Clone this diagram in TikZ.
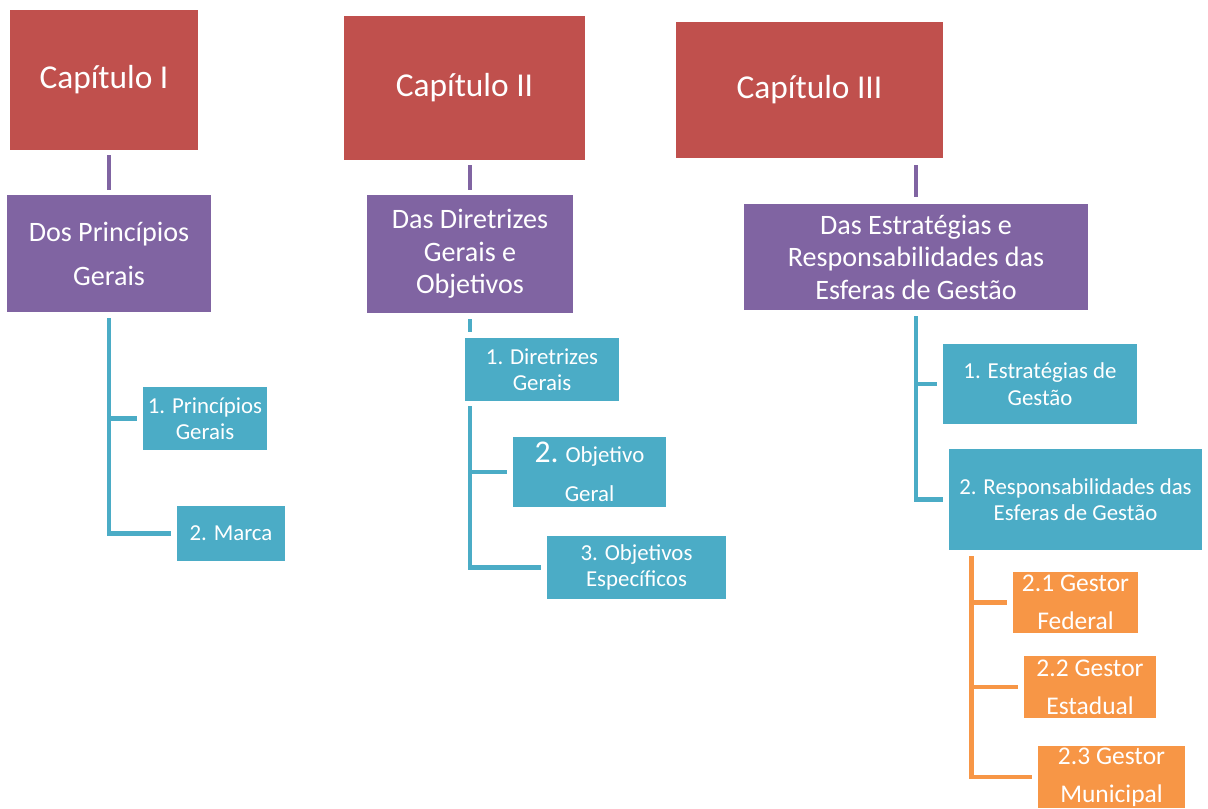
\documentclass[tikz,border=0pt]{standalone}
\usepackage{fontspec}
\setmainfont{Carlito}
\usepackage{tikz}
\usetikzlibrary{positioning}
\definecolor{capred}{HTML}{C0504D}
\definecolor{secpurple}{HTML}{8064A2}
\definecolor{itemteal}{HTML}{4BACC6}
\definecolor{suborange}{HTML}{F79646}

\begin{document}
\begin{tikzpicture}[
    node distance=2cm,
    chapter/.style={
		rectangle,
		fill=capred,
		text=white,
		text centered,
		inner sep=0pt,
		font=\fontsize{19}{23}\selectfont
	},
	part/.style={
		rectangle,
		fill=secpurple,
		text=white,
		align=center,
		inner sep=0pt,
		font=\fontsize{16}{18.5}\selectfont
	},
	topic/.style={
		rectangle,
		fill=itemteal,
		text=white,
		align=center,
		inner sep=0pt,
		font=\fontsize{13}{15}\selectfont
	},
	gestor/.style={
		rectangle,
		fill=suborange,
		text=white,
		align=center,
		inner sep=0pt,
		font=\fontsize{14.5}{21.5}\selectfont
	},
	plink/.style={
		draw=secpurple,
		line width=2.6pt,
		shorten <=0.1cm,
		shorten >=0.1cm
	},
	tlink/.style={
		draw=itemteal,
		line width=2.6pt,
		shorten <=0.12cm,
		shorten >=0.12cm
	},
	olink/.style={
		draw=suborange,
		line width=2.6pt,
		shorten <=0.12cm,
		shorten >=0.12cm
	}
  ]

\useasboundingbox (0,0) rectangle (24.16,-16.16);

 % // Chapters
 \node [chapter, minimum width=3.76cm, minimum height=2.8cm] (cap1) at (2.08,-1.6) {Capítulo I};
 \node [chapter, right of=cap1, xshift=5.21cm, yshift=-0.16cm, minimum width=4.82cm, minimum height=2.88cm] (cap2) {Capítulo II};
 \node [chapter, right of=cap2, xshift=4.9cm, yshift=-0.04cm, minimum width=5.34cm, minimum height=2.72cm] (cap3) {Capítulo III};

 % // Sections
 \node [part, below of=cap1, xshift=0.1cm, yshift=-1.47cm, minimum width=4.08cm, minimum height=2.34cm, font=\fontsize{16}{25}\selectfont] (sec1) {Dos Princípios\\Gerais};
 \node [part, below of=cap2, xshift=0.11cm, yshift=-1.32cm, minimum width=4.12cm, minimum height=2.36cm] (sec2) {Das Diretrizes\\Gerais e\\Objetivos};
 \node [part, below of=cap3, xshift=2.13cm, yshift=-1.34cm, minimum width=6.88cm, minimum height=2.12cm] (sec3) {Das Estratégias e\\Responsabilidades das\\Esferas de Gestão};

 \draw [plink] (cap1.south -| sec1.north) -- (sec1.north);
 \draw [plink] (cap2.south -| sec2.north) -- (sec2.north);
 \draw [plink, shorten <=0.14cm, shorten >=0.14cm] (cap3.south -| sec3.north) -- (sec3.north);

 % // Chapter I items
 \node [topic, below of=sec1, xshift=1.92cm, yshift=-1.3cm, minimum width=2.48cm, minimum height=1.26cm] (item11) {1. Princípios\\Gerais};
 \node [topic, below of=item11, xshift=0.52cm, yshift=-0.3cm, minimum width=2.16cm, minimum height=1.1cm] (item12) {2. Marca};

 \draw [tlink] (sec1.south) |- (item11.west);
 \draw [tlink] (sec1.south) |- (item12.west);

 % // Chapter II items
 \node [topic, below of=sec2, xshift=1.44cm, yshift=-0.31cm, minimum width=3.08cm, minimum height=1.26cm] (item21) {1. Diretrizes\\Gerais};
 \node [topic, below of=item21, xshift=0.95cm, yshift=-0.05cm, minimum width=3.06cm, minimum height=1.4cm, font=\fontsize{13}{22}\selectfont] (item22) {{\fontsize{18}{22}\selectfont 2.} Objetivo\\Geral};
 \node [topic, below of=item22, xshift=0.94cm, yshift=0.09cm, minimum width=3.58cm, minimum height=1.26cm] (item23) {3. Objetivos\\Específicos};

 \draw [tlink] (sec2.south) -- (item21.north -| sec2.south);
 \draw [tlink, shorten <=0.1cm] (item21.south -| sec2.south) |- (item22.west);
 \draw [tlink, shorten <=0.1cm] (item21.south -| sec2.south) |- (item23.west);

 % // Chapter III items
 \node [topic, below of=sec3, xshift=2.48cm, yshift=-0.54cm, minimum width=3.88cm, minimum height=1.6cm] (item31) {1. Estratégias de\\Gestão};
 \node [topic, below of=item31, xshift=0.71cm, yshift=-0.31cm, minimum width=5.06cm, minimum height=2.02cm] (item32) {2. Responsabilidades das\\Esferas de Gestão};

 \draw [tlink] (sec3.south) |- (item31.west);
 \draw [tlink] (sec3.south) |- (item32.west);

 % // Gestores
 \node [gestor, below of=item32, yshift=-0.06cm, minimum width=2.5cm, minimum height=1.22cm] (sub1) {2.1 Gestor\\Federal};
 \node [gestor, below of=sub1, xshift=0.29cm, yshift=0.31cm, minimum width=2.64cm, minimum height=1.24cm] (sub2) {2.2 Gestor\\Estadual};
 \node [gestor, below of=sub2, xshift=0.43cm, yshift=0.2cm, minimum width=2.94cm, minimum height=1.24cm] (sub3) {2.3 Gestor\\Municipal};

 \draw [olink] ([xshift=0.46cm]item32.south west) |- (sub1.west);
 \draw [olink] ([xshift=0.46cm]item32.south west) |- (sub2.west);
 \draw [olink] ([xshift=0.46cm]item32.south west) |- (sub3.west);

\end{tikzpicture}
\end{document}
